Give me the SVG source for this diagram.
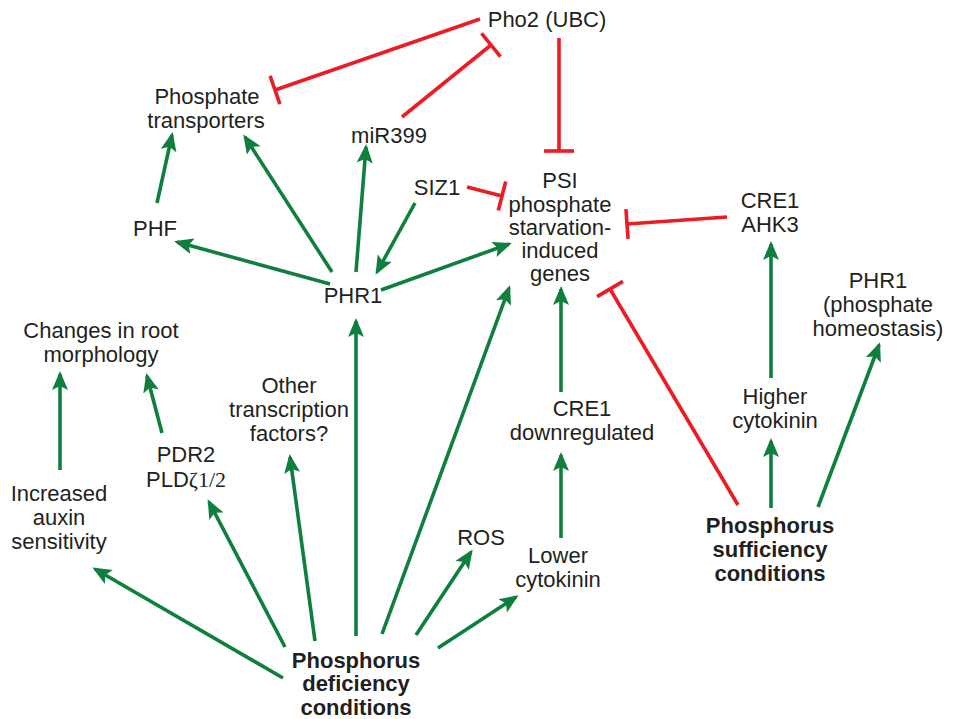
<svg xmlns="http://www.w3.org/2000/svg" width="954" height="719" viewBox="0 0 954 719">
<style>
text{font-family:"Liberation Sans",Arial,sans-serif;font-size:22px;fill:#231f20;text-anchor:middle}
.b{font-weight:bold}
.g{stroke:#0f7f3d;stroke-width:3.6;fill:none;marker-end:url(#arr)}
.r{stroke:#ec1c24;stroke-width:3.6;fill:none;marker-end:url(#tee)}
.serif{font-family:"Liberation Serif","Times New Roman",serif}
</style>
<defs>
<marker id="arr" markerUnits="userSpaceOnUse" markerWidth="20" markerHeight="16" refX="16" refY="8" orient="auto" viewBox="0 0 20 16">
<path d="M0,0 L19,8 L0,16 L4,8 z" fill="#0f7f3d"/>
</marker>
<marker id="tee" markerUnits="userSpaceOnUse" markerWidth="4" markerHeight="30" refX="0" refY="15" orient="auto" viewBox="-2 0 4 30" overflow="visible">
<rect x="-1.8" y="0" width="3.6" height="30" fill="#ec1c24"/>
</marker>
</defs>
<rect width="954" height="719" fill="#fff"/>
<g id="connectors">
<line class="r" x1="480" y1="19" x2="275" y2="90"/>
<line class="r" x1="402" y1="117" x2="491" y2="45"/>
<line class="r" x1="559" y1="38" x2="559" y2="151"/>
<line class="r" x1="467" y1="187" x2="502" y2="196"/>
<line class="r" x1="727" y1="217" x2="627" y2="224"/>
<line class="r" x1="738" y1="505" x2="610" y2="289"/>
<line class="g" x1="283" y1="678" x2="95" y2="569"/>
<line class="g" x1="285" y1="647" x2="209" y2="502"/>
<line class="g" x1="315" y1="641" x2="290" y2="457"/>
<line class="g" x1="356" y1="636" x2="356" y2="321"/>
<line class="g" x1="382" y1="634" x2="509" y2="288"/>
<line class="g" x1="416" y1="635" x2="471" y2="552"/>
<line class="g" x1="438" y1="648" x2="516" y2="597"/>
<line class="g" x1="60" y1="470" x2="60" y2="374"/>
<line class="g" x1="162" y1="433" x2="147" y2="376"/>
<line class="g" x1="157" y1="203" x2="172" y2="135"/>
<line class="g" x1="330" y1="284" x2="177" y2="242"/>
<line class="g" x1="332" y1="272" x2="245" y2="137"/>
<line class="g" x1="356" y1="272" x2="366" y2="147"/>
<line class="g" x1="415" y1="203" x2="377" y2="272"/>
<line class="g" x1="381" y1="290" x2="509" y2="244"/>
<line class="g" x1="561" y1="392" x2="561" y2="289"/>
<line class="g" x1="561" y1="538" x2="561" y2="455"/>
<line class="g" x1="771" y1="378" x2="771" y2="244"/>
<line class="g" x1="771" y1="508" x2="771" y2="441"/>
<line class="g" x1="818" y1="507" x2="879" y2="345"/>
</g>
<g id="pho2"><text x="547" y="27">Pho2 (UBC)</text></g>
<g id="phosphate-transporters"><text x="207" y="104">Phosphate</text><text x="206" y="128">transporters</text></g>
<g id="mir399"><text x="389" y="143">miR399</text></g>
<g id="siz1"><text x="437" y="195">SIZ1</text></g>
<g id="psi"><text x="560" y="188">PSI</text><text x="560" y="212">phosphate</text><text x="560" y="235">starvation-</text><text x="560" y="258">induced</text><text x="560" y="281">genes</text></g>
<g id="cre1-ahk3"><text x="770" y="208">CRE1</text><text x="770" y="232">AHK3</text></g>
<g id="phf"><text x="155" y="236">PHF</text></g>
<g id="phr1"><text x="353" y="303">PHR1</text></g>
<g id="phr1-homeostasis"><text x="878" y="288">PHR1</text><text x="878" y="312">(phosphate</text><text x="878" y="336">homeostasis)</text></g>
<g id="root-morphology"><text x="101" y="338">Changes in root</text><text x="101" y="362">morphology</text></g>
<g id="other-tf"><text x="289" y="393">Other</text><text x="289" y="417">transcription</text><text x="289" y="441">factors?</text></g>
<g id="cre1-down"><text x="582" y="416">CRE1</text><text x="582" y="440">downregulated</text></g>
<g id="higher-cytokinin"><text x="775" y="404">Higher</text><text x="775" y="428">cytokinin</text></g>
<g id="pdr2"><text x="186" y="462">PDR2</text><text x="186" y="487">PLD<tspan class="serif">ζ1/2</tspan></text></g>
<g id="auxin"><text x="59" y="501">Increased</text><text x="59" y="525">auxin</text><text x="59" y="549">sensitivity</text></g>
<g id="ros"><text x="481" y="545">ROS</text></g>
<g id="lower-cytokinin"><text x="558" y="563">Lower</text><text x="558" y="587">cytokinin</text></g>
<g id="sufficiency"><text class="b" x="770" y="533">Phosphorus</text><text class="b" x="770" y="557">sufficiency</text><text class="b" x="770" y="581">conditions</text></g>
<g id="deficiency"><text class="b" x="356" y="668">Phosphorus</text><text class="b" x="356" y="691">deficiency</text><text class="b" x="356" y="715">conditions</text></g>
</svg>
